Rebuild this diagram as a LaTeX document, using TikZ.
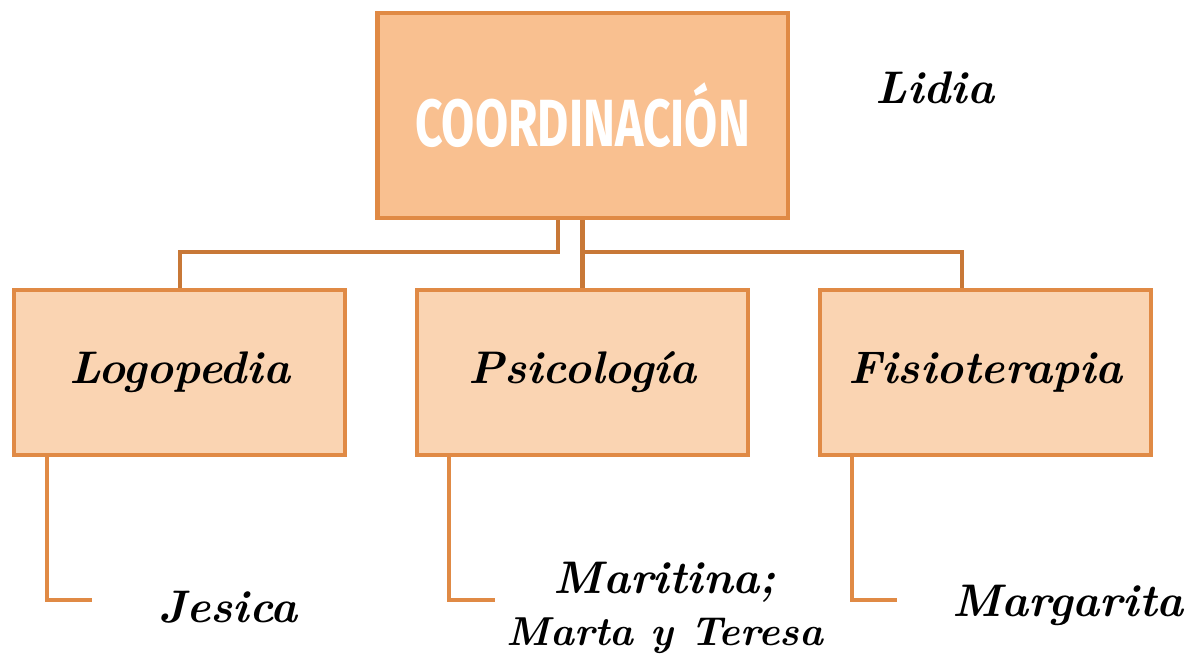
\documentclass[tikz,border=0pt]{standalone}
\usepackage{fontspec}
\usepackage{graphicx}
\newfontfamily\titlefont{Fira Sans}
\definecolor{borde}{HTML}{E08A45}
\definecolor{linea}{HTML}{C87837}
\definecolor{fondoA}{HTML}{F9C090}
\definecolor{fondoB}{HTML}{FAD4B2}
\newcommand{\nombre}[1]{\fontsize{26}{30}\selectfont\bfseries\itshape #1}
\begin{document}
\begin{tikzpicture}[x=0.02cm, y=-0.02cm,
	caja/.style = {draw=borde, line width=2.8pt, fill=fondoB, minimum width=6.62cm, minimum height=3.3cm, inner sep=0pt},
	raiz/.style = {caja, fill=fondoA, minimum width=8.22cm, minimum height=4.1cm},
	rama/.style = {draw=linea, line width=2.8pt},
	hoja/.style = {draw=borde, line width=2.8pt},
	txt/.style = {inner sep=0pt, align=center}]
				\useasboundingbox (0,0) rectangle (1191,658);
				\node[raiz] (c) at (582.5,115.5) {\titlefont\bfseries\color{white}\scalebox{0.72}[1]{\fontsize{38}{40}\selectfont COORDINACIÓN}};
				\node[caja] (l) at (179.5,372.5) {\nombre{Logopedia}};
				\node[caja] (p) at (582.5,372.5) {\nombre{Psicología}};
				\node[caja] (f) at (985.5,372.5) {\nombre{Fisioterapia}};
				\node[txt] (lidia) at (935,88) {\nombre{Lidia}};
				\node[txt] (je) at (228,607) {\nombre{Jesica}};
				\node[txt] (ma) at (665,608) {\nombre{Maritina;}\\[8pt]\fontsize{23}{26}\selectfont\bfseries\itshape Marta y Teresa};
				\node[txt] (mg) at (1068,605) {\nombre{Margarita}};
				
				\coordinate (l1) at (47,600);
				\coordinate (l2) at (92,600);
				\coordinate (p1) at (449,600);
				\coordinate (p2) at (495,600);
				\coordinate (f1) at (852,600);
				\coordinate (f2) at (897,600);
				
				\draw[rama] (c.south -| 558,0) |- (180,252) -- (l.north -| 180,0);
				\draw[rama] (c.south) -- (p.north);
				\draw[rama] (582,252) -| (f.north -| 962,0);
				\draw[hoja] (l.south -| l1) |- (l2);
				\draw[hoja] (p.south -| p1) |- (p2);
				\draw[hoja] (f.south -| f1) |- (f2);
			\end{tikzpicture}
\end{document}
